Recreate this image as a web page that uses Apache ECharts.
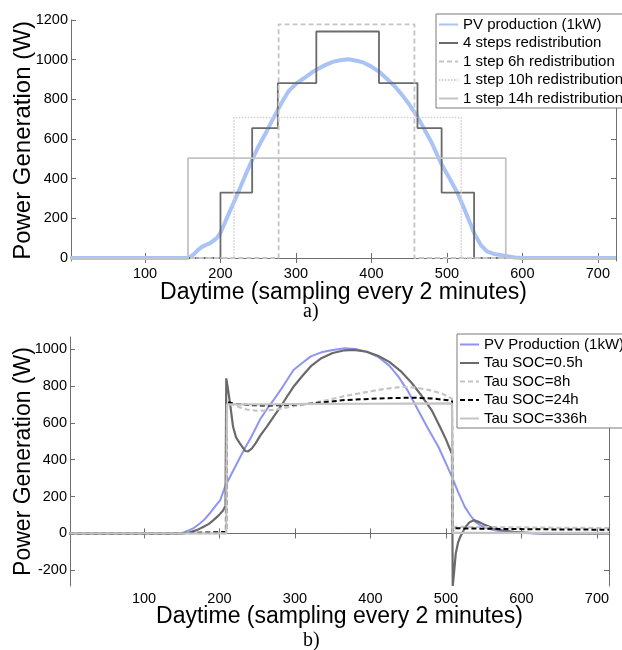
<!DOCTYPE html>
<html>
<head>
    <meta charset="utf-8">
    <title>PV redistribution</title>
    <script src="https://cdn.jsdelivr.net/npm/echarts@6/dist/echarts.min.js"></script>
    <style>
        html, body { margin: 0; padding: 0; background: #fff; }
        #container { width: 622px; height: 650px; }
    </style>
</head>
<body>
<div id="container"></div>
<script type="text/javascript">
    // tick labels
    var xTicks = [100, 200, 300, 400, 500, 600, 700];
    var yTicksA = [0, 200, 400, 600, 800, 1000, 1200];
    var yTicksB = [-200, 0, 200, 400, 600, 800, 1000];

    // a) PV production
    var pvA = [[1, 0], [155, 0], [160, 5], [165, 20], [170, 40], [175, 55], [180, 65], [185, 72], [190, 85],
        [195, 100], [200, 127], [205, 170], [210, 215], [217, 275], [225, 345], [230, 390], [235, 435],
        [242, 495], [250, 560], [260, 630], [268, 690], [276, 747], [283, 795], [290, 840], [301, 882],
        [310, 905], [321, 935], [330, 955], [340, 975], [350, 990], [360, 998], [370, 1002], [380, 995],
        [390, 985], [400, 965], [410, 940], [420, 905], [430, 870], [440, 825], [450, 775], [461, 713],
        [470, 650], [480, 580], [492, 479], [503, 405], [514, 328], [525, 230], [536, 126], [545, 65],
        [553, 33], [563, 20], [576, 12], [590, 3], [600, 0], [724, 0]];

    // step redistributions: switching points and levels
    var steps4Edges = [200, 242, 276, 327, 410, 461, 493, 536];
    var steps4Levels = [0, 330, 655, 882, 1142, 882, 655, 330, 0];
    var step6hEdges = [277, 457];
    var step6hLevels = [0, 1178, 0];
    var step10hEdges = [218, 519];
    var step10hLevels = [0, 708, 0];
    var step14hEdges = [157, 578];
    var step14hLevels = [0, 504, 0];

    // b) PV production and SOC time constants
    var pvB = [[1, 0], [150, 0], [155, 10], [160, 18], [165, 27], [170, 42], [174, 54], [180, 75], [187, 108],
        [194, 145], [201, 181], [207, 250], [214, 307], [220, 355], [227, 410], [234, 465], [241, 515],
        [248, 570], [254, 620], [263, 675], [272, 725], [281, 778], [290, 835], [298, 886], [310, 925],
        [321, 960], [335, 982], [350, 995], [366, 1004], [380, 1000], [395, 985], [410, 958], [425, 910],
        [437, 850], [450, 770], [463, 669], [476, 570], [490, 470], [500, 380], [508, 307], [516, 225],
        [525, 144], [532, 100], [539, 63], [547, 40], [556, 27], [566, 16], [578, 9], [590, 5], [605, 2],
        [620, 0], [716, 0]];
    var tau05 = [[1, 0], [150, 0], [160, 5], [170, 18], [179, 36], [186, 52], [192, 72], [199, 98], [205, 126],
        [208, 150], [209, 841], [211, 790], [214, 705], [218, 578], [222, 520], [227, 488], [234, 447],
        [238, 445], [243, 461], [248, 490], [254, 530], [263, 580], [272, 635], [281, 687], [290, 745],
        [298, 795], [310, 855], [322, 910], [335, 950], [350, 978], [366, 993], [378, 995], [395, 985],
        [410, 963], [425, 930], [440, 880], [455, 814], [468, 745], [481, 669], [493, 570], [500, 510],
        [506, 450], [508, 430], [509, -285], [511, -200], [513, -108], [516, -50], [519, -18], [525, 30],
        [531, 60], [537, 72], [545, 60], [552, 45], [563, 28], [575, 16], [590, 8], [610, 3], [630, 0],
        [716, 0]];
    var tau8 = [[1, 0], [208, 0], [209, 5], [210, 700], [217, 700], [226, 685], [236, 672], [250, 665],
        [263, 666], [280, 675], [298, 690], [322, 705], [345, 725], [366, 745], [390, 763], [410, 778],
        [441, 795], [460, 790], [477, 778], [495, 758], [503, 740], [508, 732], [509, 20], [511, 36],
        [560, 34], [640, 31], [716, 29]];
    var tau24 = [[1, 0], [135, 0], [136, 6], [209, 8], [210, 712], [220, 703], [240, 696], [263, 693],
        [298, 697], [322, 705], [366, 723], [410, 732], [455, 736], [481, 732], [503, 722], [508, 718],
        [509, 10], [511, 28], [560, 25], [640, 22], [716, 20]];
    var tau336 = [[1, 0], [209, 0], [210, 700], [260, 700], [330, 702], [400, 703], [508, 705], [509, 3],
        [716, 3]];

    function stepLine(edges, levels, xMin, xMax) {
        var pts = [[xMin, levels[0]]];
        for (var i = 0; i < edges.length; i++) {
            pts.push([edges[i], levels[i]]);
            pts.push([edges[i], levels[i + 1]]);
        }
        pts.push([xMax, levels[levels.length - 1]]);
        return pts;
    }

    var font = 'Liberation Sans';
    var axisColor = '#6e6e6e';
    function plain(v) { return String(v); }

    function mainX(grid, min, max, gap) {
        return {
            type: 'value', gridIndex: grid, min: min, max: max, position: 'bottom',
            name: 'Daytime (sampling every 2 minutes)', nameLocation: 'middle', nameGap: gap,
            nameMoveOverlap: false,
            nameTextStyle: {fontFamily: font, fontSize: 23, color: '#000'},
            axisLine: {show: true, lineStyle: {color: axisColor, width: 1}},
            axisTick: {show: true, inside: true, length: 5, customValues: xTicks, lineStyle: {color: axisColor}},
            axisLabel: {customValues: xTicks, formatter: plain, margin: 5, fontFamily: font, fontSize: 14.5, color: '#000'},
            splitLine: {show: false}
        };
    }
    function sideX(grid, min, max) {
        return {
            type: 'value', gridIndex: grid, min: min, max: max, position: 'top',
            axisLine: {show: true, lineStyle: {color: axisColor, width: 1}},
            axisTick: {show: true, inside: true, length: 5, customValues: xTicks, lineStyle: {color: axisColor}},
            axisLabel: {show: false}, splitLine: {show: false}
        };
    }
    function mainY(grid, min, max, ticks, gap, size) {
        return {
            type: 'value', gridIndex: grid, min: min, max: max, position: 'left',
            name: 'Power Generation (W)', nameLocation: 'middle', nameGap: gap,
            nameMoveOverlap: false,
            nameTextStyle: {fontFamily: font, fontSize: size, color: '#000'},
            axisLine: {show: true, lineStyle: {color: axisColor, width: 1}},
            axisTick: {show: true, inside: true, length: 5, customValues: ticks, lineStyle: {color: axisColor}},
            axisLabel: {customValues: ticks, formatter: plain, margin: 3, fontFamily: font, fontSize: 14.5, color: '#000'},
            splitLine: {show: false}
        };
    }
    function sideY(grid, min, max, ticks) {
        return {
            type: 'value', gridIndex: grid, min: min, max: max, position: 'right',
            axisLine: {show: true, lineStyle: {color: axisColor, width: 1}},
            axisTick: {show: true, inside: true, length: 5, customValues: ticks, lineStyle: {color: axisColor}},
            axisLabel: {show: false}, splitLine: {show: false}
        };
    }
    function line(name, data, xi, yi, color, width, type) {
        return {
            name: name, type: 'line', xAxisIndex: xi, yAxisIndex: yi, data: data,
            symbol: 'none', showSymbol: false, animation: false, silent: true,
            lineStyle: {color: color, width: width, type: type || 'solid'},
            itemStyle: {color: color}
        };
    }
    function legendBox(left, top, names) {
        return {
            data: names, orient: 'vertical', left: left, top: top,
            padding: [3, 4, 2, 2], itemWidth: 19, itemHeight: 15, itemGap: 3.5,
            borderColor: '#7a7a7a', borderWidth: 1, backgroundColor: '#fff',
            selectedMode: false,
            itemStyle: {opacity: 0},
            textStyle: {fontFamily: font, fontSize: 15, color: '#000', lineHeight: 15}
        };
    }

    var blueA = '#a9c3f6';
    var blueB = '#8d95f0';
    var dark = '#6a6a6a';
    var light = '#c4c4c4';

    var mychart = echarts.init(document.getElementById('container'), null, {renderer: 'canvas'});

    var options = {
        backgroundColor: '#fff',
        animation: false,
        grid: [
            {left: 71, top: 20, width: 545, height: 241, outerBoundsMode: 'none', containLabel: false},
            {left: 70, top: 337, width: 539, height: 249, outerBoundsMode: 'none', containLabel: false}
        ],
        xAxis: [mainX(0, 2, 724, 20), sideX(0, 2, 724), mainX(1, 2, 716, 19), sideX(1, 2, 716)],
        yAxis: [mainY(0, -15, 1200, yTicksA, 36, 24), sideY(0, -15, 1200, yTicksA),
            mainY(1, -285, 1065, yTicksB, 35, 23), sideY(1, -285, 1065, yTicksB)],
        legend: [
            legendBox(436, 14, ['PV production (1kW)', '4 steps redistribution', '1 step 6h redistribution',
                '1 step 10h redistribution', '1 step 14h redistribution']),
            legendBox(457, 334, ['PV Production (1kW)', 'Tau SOC=0.5h', 'Tau SOC=8h', 'Tau SOC=24h', 'Tau SOC=336h'])
        ],
        series: [
            line('PV production (1kW)', pvA, 0, 0, blueA, 4),
            line('4 steps redistribution', stepLine(steps4Edges, steps4Levels, 1, 724), 0, 0, dark, 1.8),
            line('1 step 6h redistribution', stepLine(step6hEdges, step6hLevels, 1, 724), 0, 0, light, 1.8, [5, 3]),
            line('1 step 10h redistribution', stepLine(step10hEdges, step10hLevels, 1, 724), 0, 0, '#cfcfcf', 1.5, [1.5, 1.5]),
            line('1 step 14h redistribution', stepLine(step14hEdges, step14hLevels, 1, 724), 0, 0, light, 1.8),

            line('PV Production (1kW)', pvB, 2, 2, blueB, 2),
            line('Tau SOC=0.5h', tau05, 2, 2, dark, 2.2),
            line('Tau SOC=8h', tau8, 2, 2, light, 2.2, [5, 3]),
            line('Tau SOC=24h', tau24, 2, 2, '#000', 2, [5, 3]),
            line('Tau SOC=336h', tau336, 2, 2, light, 2.2)
        ],
        graphic: [
            {type: 'text', left: 303, top: 302, style: {text: 'a)', font: '20px "Liberation Serif"', fill: '#000'}},
            {type: 'text', left: 303, top: 631, style: {text: 'b)', font: '20px "Liberation Serif"', fill: '#000'}}
        ]
    };

    mychart.setOption(options);
</script>
</body>
</html>
